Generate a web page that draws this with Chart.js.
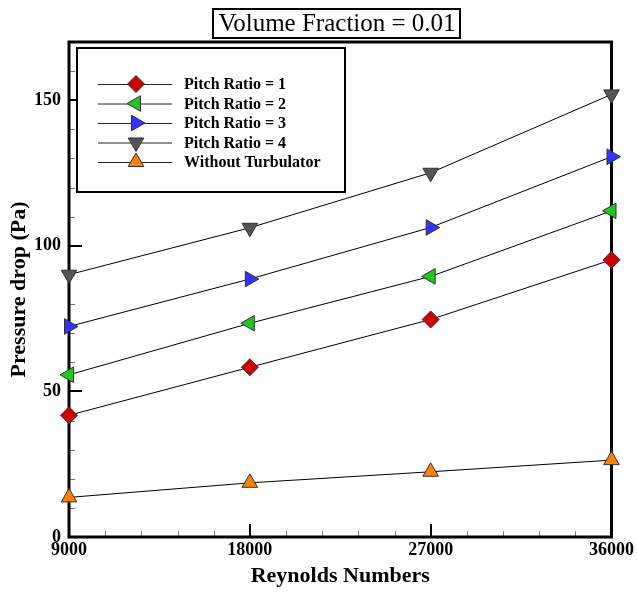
<!DOCTYPE html>
<html>
<head>
<meta charset="utf-8">
<title>Pressure drop vs Reynolds number</title>
<script src="https://cdn.jsdelivr.net/npm/chart.js@4/dist/chart.umd.min.js"></script>
<style>
  html, body { margin: 0; padding: 0; background: #fff; }
  #wrap { position: relative; width: 637px; height: 593px; }
</style>
</head>
<body>
<div id="wrap"><canvas id="pressureChart"></canvas></div>
<script>
// Data
const reynolds = [9000, 18000, 27000, 36000];
const pitchRatio1 = [41.8, 58.3, 74.7, 95.2];
const pitchRatio2 = [55.7, 73.4, 89.5, 112.0];
const pitchRatio3 = [72.3, 88.6, 106.3, 130.6];
const pitchRatio4 = [90.1, 106.2, 125.1, 152.0];
const withoutTurbulator = [13.6, 18.6, 22.4, 26.4];

const xTicks = [9000, 18000, 27000, 36000];
const yTicks = [0, 50, 100, 150];

const titleText = "Volume Fraction = 0.01";
const serif = "'Liberation Serif', 'Times New Roman', serif";

function toPoints(values) {
  return reynolds.map((r, i) => ({ x: r, y: values[i] }));
}

function series(label, values, color, style, rotation) {
  return {
    label: label,
    data: toPoints(values),
    borderColor: "#000",
    borderWidth: 1,
    backgroundColor: color,
    pointBackgroundColor: color,
    pointBorderColor: "#333",
    pointBorderWidth: 1,
    pointStyle: style,
    pointRotation: rotation,
    pointRadius: style === "rectRot" ? 8.5 : 9,
    pointHoverRadius: style === "rectRot" ? 8.5 : 9,
    tension: 0,
    fill: false,
    clip: false
  };
}

// minor / major inward ticks and the plot frame
const frameTicks = {
  id: "frameTicks",
  beforeDatasetsDraw(chart) {
    const { ctx, chartArea: a, scales: { x, y } } = chart;
    ctx.save();
    ctx.strokeStyle = "#777";
    ctx.lineWidth = 1;
    ctx.beginPath();
    for (let v = 10; v < 170; v += 10) {
      if (v % 50 === 0) continue;
      const py = Math.round(y.getPixelForValue(v)) + 0.5;
      ctx.moveTo(a.left, py);
      ctx.lineTo(a.left + 6, py);
    }
    for (let v = 10800; v < 36000; v += 1800) {
      if ((v - 9000) % 9000 === 0) continue;
      const px = Math.round(x.getPixelForValue(v)) + 0.5;
      ctx.moveTo(px, a.bottom);
      ctx.lineTo(px, a.bottom - 6);
    }
    ctx.stroke();

    ctx.strokeStyle = "#000";
    ctx.lineWidth = 2;
    ctx.beginPath();
    [50, 100, 150].forEach(v => {
      const py = Math.round(y.getPixelForValue(v));
      ctx.moveTo(a.left, py);
      ctx.lineTo(a.left + 13, py);
    });
    [18000, 27000].forEach(v => {
      const px = Math.round(x.getPixelForValue(v));
      ctx.moveTo(px, a.bottom);
      ctx.lineTo(px, a.bottom - 13);
    });
    ctx.stroke();

    ctx.lineWidth = 3;
    ctx.strokeRect(a.left, a.top, a.right - a.left, a.bottom - a.top);
    ctx.restore();
  }
};

function drawMarker(ctx, ds, px, py) {
  const opts = {
    pointStyle: ds.pointStyle,
    rotation: ds.pointRotation,
    radius: ds.pointRadius,
    borderWidth: 1
  };
  ctx.fillStyle = ds.pointBackgroundColor;
  ctx.strokeStyle = ds.pointBorderColor;
  ctx.lineWidth = 1;
  Chart.helpers.drawPoint(ctx, opts, px, py);
}

// boxed title and boxed legend
const boxes = {
  id: "boxes",
  afterDraw(chart) {
    const ctx = chart.ctx;
    ctx.save();

    // title
    ctx.font = "25px " + serif;
    ctx.textAlign = "center";
    ctx.textBaseline = "middle";
    ctx.fillStyle = "#000";
    const tw = ctx.measureText(titleText).width;
    const cx = 337;
    ctx.fillText(titleText, cx, 24);
    ctx.lineWidth = 2;
    ctx.strokeStyle = "#000";
    ctx.strokeRect(Math.round(cx - tw / 2 - 5), 9, Math.round(tw + 10), 29);

    // legend
    ctx.fillStyle = "#fff";
    ctx.fillRect(77, 48, 268, 144);
    ctx.strokeRect(77, 48, 268, 144);
    const rows = [84, 103.5, 123, 142.5, 162];
    chart.data.datasets.forEach((ds, i) => {
      const ry = rows[i];
      ctx.strokeStyle = "#222";
      ctx.lineWidth = 1;
      ctx.beginPath();
      ctx.moveTo(98, ry + 0.5);
      ctx.lineTo(172, ry + 0.5);
      ctx.stroke();
      drawMarker(ctx, ds, 136, ry);
      ctx.fillStyle = "#000";
      ctx.font = "bold 16px " + serif;
      ctx.textAlign = "left";
      ctx.textBaseline = "middle";
      ctx.fillText(ds.label, 184, ry + 1);
    });
    ctx.restore();
  }
};

let chart;

function initChart() {
  const ctx = document.getElementById("pressureChart").getContext("2d");
  chart = new Chart(ctx, {
    type: "line",
    data: {
      datasets: [
        series("Pitch Ratio = 1", pitchRatio1, "#d00000", "rectRot", 0),
        series("Pitch Ratio = 2", pitchRatio2, "#1ec81e", "triangle", -90),
        series("Pitch Ratio = 3", pitchRatio3, "#3333ff", "triangle", 90),
        series("Pitch Ratio = 4", pitchRatio4, "#555555", "triangle", 180),
        series("Without Turbulator", withoutTurbulator, "#ff8000", "triangle", 0)
      ]
    },
    options: {
      responsive: true,
      maintainAspectRatio: false,
      animation: false,
      devicePixelRatio: 1,
      layout: {
        padding: { top: 42, right: 25, left: 0, bottom: 0 }
      },
      scales: {
        x: {
          type: "linear",
          min: 9000,
          max: 36000,
          afterBuildTicks: s => { s.ticks = xTicks.map(v => ({ value: v })); },
          afterFit: s => { s.height = 56; },
          grid: { display: false, drawTicks: false },
          border: { display: false },
          ticks: {
            padding: 3,
            color: "#000",
            maxRotation: 0,
            autoSkip: false,
            font: { family: serif, size: 18, weight: "bold" },
            callback: v => String(v)
          },
          title: {
            display: true,
            text: "Reynolds Numbers",
            color: "#000",
            padding: { top: 0, bottom: 3 },
            font: { family: serif, size: 22, weight: "bold" }
          }
        },
        y: {
          min: 0,
          max: 170,
          afterBuildTicks: s => { s.ticks = yTicks.map(v => ({ value: v })); },
          afterFit: s => { s.width = 69; },
          grid: { display: false, drawTicks: false },
          border: { display: false },
          ticks: {
            padding: 8,
            color: "#000",
            autoSkip: false,
            font: { family: serif, size: 18, weight: "bold" }
          },
          title: {
            display: true,
            text: "Pressure drop (Pa)",
            color: "#000",
            padding: { top: 6, bottom: 0 },
            font: { family: serif, size: 22, weight: "bold" }
          }
        }
      },
      plugins: {
        legend: { display: false },
        tooltip: { enabled: false }
      }
    },
    plugins: [frameTicks, boxes]
  });
}

initChart();
</script>
</body>
</html>
